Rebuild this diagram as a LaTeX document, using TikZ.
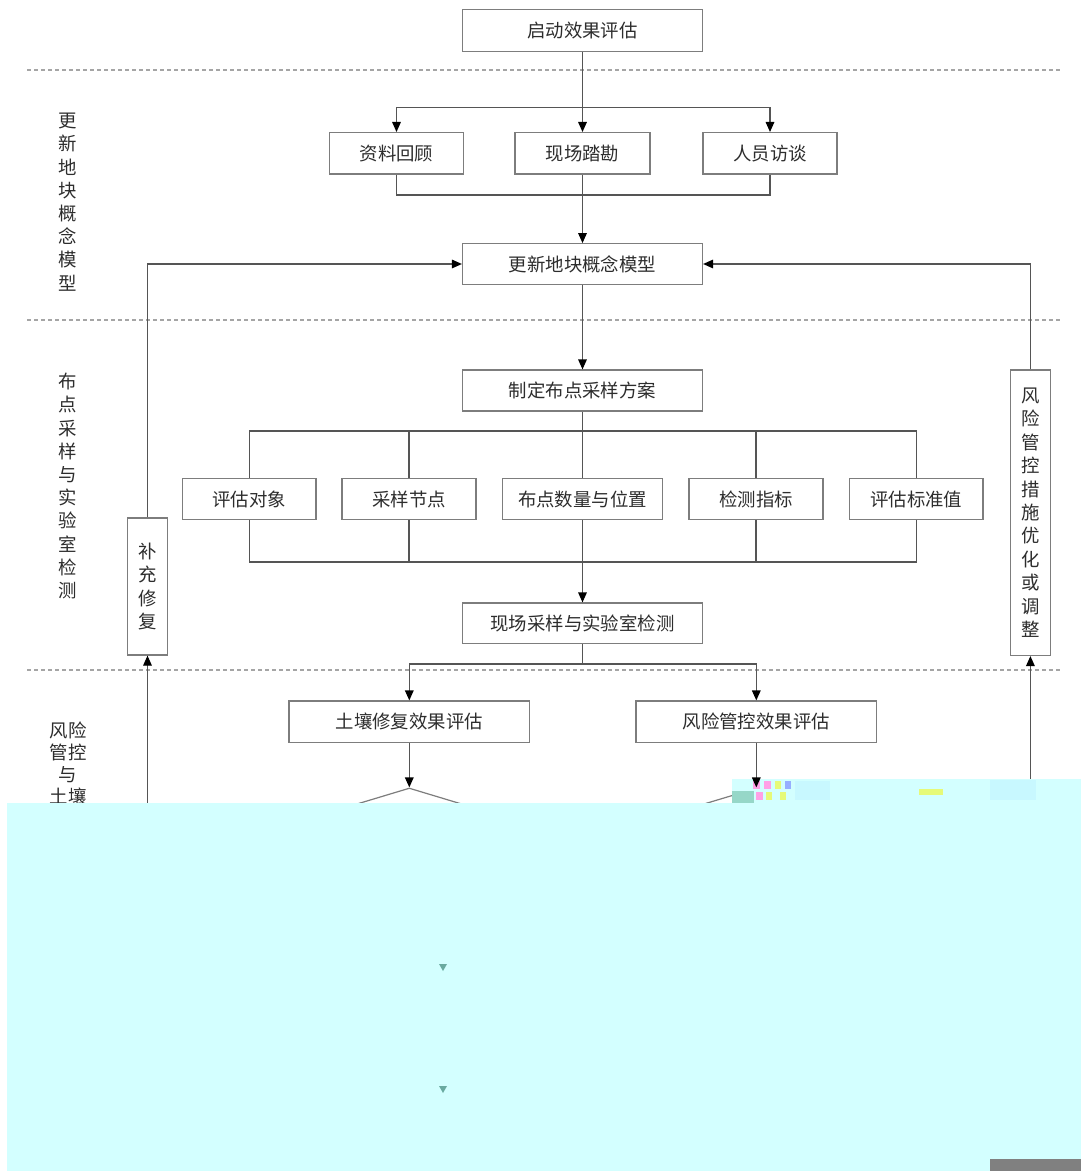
\documentclass[tikz,border=0pt]{standalone}
\usepackage{fontspec}
\newfontfamily\cjk{Noto Sans CJK SC}
\usetikzlibrary{shapes.geometric,arrows.meta}
\definecolor{boxline}{RGB}{125,125,125}
\definecolor{conn}{RGB}{85,85,85}
\definecolor{txt}{RGB}{45,45,45}
\definecolor{dashc}{RGB}{165,165,165}
\definecolor{cyanbg}{RGB}{211,255,255}
\definecolor{tealmark}{RGB}{105,170,160}
\definecolor{noiseteal}{RGB}{150,215,200}
\definecolor{noisepink}{RGB}{255,160,230}
\definecolor{noiseyellow}{RGB}{230,250,120}
\definecolor{noiseblue}{RGB}{150,175,255}
\definecolor{noiselight}{RGB}{200,248,255}
\definecolor{greyblock}{RGB}{128,128,128}
\begin{document}
\begin{tikzpicture}[x=0.5pt,y=-0.5pt,
  box/.style={draw=boxline, line width=0.6pt, rectangle, inner sep=0pt, align=center,
    font=\cjk\fontsize{9.2}{11}\selectfont, text=txt},
  vbox/.style={box, font=\cjk\fontsize{9.2}{11.7}\selectfont},
  lab/.style={inner sep=0pt, align=center, text=txt, font=\cjk\fontsize{9.2}{11.6}\selectfont},
  line/.style={draw=conn, line width=0.6pt},
  arr/.style={line, -{Triangle[length=5pt,width=4.3pt,fill=black,color=black]}},
  sep/.style={draw=dashc, line width=0.6pt, dash pattern=on 2pt off 1.5pt},
  dia/.style={draw=boxline, line width=0.6pt, diamond, inner sep=0pt, minimum width=119pt, minimum height=36pt}]
\useasboundingbox (0,0) rectangle (1081,1171);
\fill[white] (0,0) rectangle (1081,1171);

% separators
\draw[sep] (27,70) -- (1062,70);
\draw[sep] (27,320) -- (1062,320);
\draw[sep] (27,670) -- (1062,670);

% side labels
\node[lab] (L1) at (68,202) {更\\新\\地\\块\\概\\念\\模\\型};
\node[lab] (L2) at (68,486) {布\\点\\采\\样\\与\\实\\验\\室\\检\\测};
\node[lab, font=\cjk\fontsize{9.2}{10.9}\selectfont] (L3) at (68,763.3) {风险\\管控\\与\\土壤};

% boxes
\node[box, minimum width=120pt, minimum height=21pt] (start) at (582.5,30.5) {启动效果评估};
\node[box, minimum width=67pt, minimum height=20.7pt] (r1) at (396.5,153.3) {资料回顾};
\node[box, minimum width=67.5pt, minimum height=20.7pt] (r2) at (582.5,153.3) {现场踏勘};
\node[box, minimum width=67pt, minimum height=20.7pt] (r3) at (770,153.3) {人员访谈};
\node[box, minimum width=120pt, minimum height=20.3pt] (update) at (582.5,264) {更新地块概念模型};
\node[box, minimum width=120pt, minimum height=20.5pt] (plan) at (582.5,390.5) {制定布点采样方案};
\node[box, minimum width=66.75pt, minimum height=20.5pt] (e1) at (249.3,499.2) {评估对象};
\node[box, minimum width=67pt, minimum height=20.5pt] (e2) at (409,499.2) {采样节点};
\node[box, minimum width=80pt, minimum height=20.5pt] (e3) at (582.5,499.2) {布点数量与位置};
\node[box, minimum width=67pt, minimum height=20.5pt] (e4) at (756,499.2) {检测指标};
\node[box, minimum width=66.7pt, minimum height=20.5pt] (e5) at (916.3,499.2) {评估标准值};
\node[box, minimum width=120pt, minimum height=20.4pt] (sample) at (582.5,623.4) {现场采样与实验室检测};
\node[box, minimum width=120.3pt, minimum height=20.8pt] (soil) at (409.3,721.8) {土壤修复效果评估};
\node[box, minimum width=120.3pt, minimum height=20.8pt] (risk) at (756.3,721.8) {风险管控效果评估};
\node[vbox, minimum width=20.15pt, minimum height=68.5pt] (fix) at (147.5,586.5) {补\\充\\修\\复};
\node[vbox, minimum width=19.7pt, minimum height=142.75pt] (adj) at (1030.4,512.7) {风\\险\\管\\控\\措\\施\\优\\化\\或\\调\\整};

% diamonds (lower parts hidden)
\node[dia] (d1) at (409.3,824) {};
\node[dia] (d2) at (756.3,824) {};

% junction coordinates
\coordinate (b1) at (582.5,107.4);
\coordinate (m1) at (582.5,195);
\coordinate (b2) at (582.5,431);
\coordinate (m2) at (582.5,562);
\coordinate (b3) at (582.5,664);
\coordinate (lb) at (147.5,1000);
\coordinate (rb) at (1030.4,1000);

% top section
\draw[line] (start.south) -- (b1);
\draw[arr] (b1) -| (r1.north);
\draw[arr] (b1) -- (r2.north);
\draw[arr] (b1) -| (r3.north);
\draw[line] (r1.south) |- (m1);
\draw[line] (r3.south) |- (m1);
\draw[arr] (r2.south) -- (update.north);

% plan section
\draw[arr] (update.south) -- (plan.north);
\draw[line] (plan.south) -- (b2);
\draw[line] (b2) -| (e1.north);
\draw[line] (b2) -| (e2.north);
\draw[line] (b2) -- (e3.north);
\draw[line] (b2) -| (e4.north);
\draw[line] (b2) -| (e5.north);
\draw[line] (e1.south) |- (m2);
\draw[line] (e2.south) |- (m2);
\draw[line] (e4.south) |- (m2);
\draw[line] (e5.south) |- (m2);
\draw[line] (e3.south) -- (m2);
\draw[arr] (m2) -- (sample.north);

% evaluation section
\draw[line] (sample.south) -- (b3);
\draw[arr] (b3) -| (soil.north);
\draw[arr] (b3) -| (risk.north);
\draw[arr] (soil.south) -- (d1.north);

% feedback loops
\draw[arr] (lb) -- (fix.south);
\draw[arr] (fix.north) |- (update.west);
\draw[arr] (rb) -- (adj.south);
\draw[arr] (adj.north) |- (update.east);

% cyan overlay as in the reference
\fill[cyanbg] (7,803) rectangle (1081,1171);
\fill[cyanbg] (732,779) rectangle (1081,803);
\fill[noiseteal] (732,791) rectangle (754,803);
\fill[noisepink] (753,781) rectangle (760,789);
\fill[noisepink] (764,781) rectangle (771,789);
\fill[noiseyellow] (775,781) rectangle (781,789);
\fill[noiseblue] (785,781) rectangle (791,789);
\fill[noisepink] (756,792) rectangle (763,800);
\fill[noiseyellow] (766,792) rectangle (772,800);
\fill[noiseyellow] (780,792) rectangle (786,800);
\fill[noiselight] (795,781) rectangle (830,800);
\fill[noiseyellow] (919,789) rectangle (943,795);
\fill[noiselight] (990,780) rectangle (1036,800);
\fill[tealmark] (439,964) -- (447,964) -- (443,971) -- cycle;
\fill[tealmark] (439,1086) -- (447,1086) -- (443,1093) -- cycle;
\fill[greyblock] (990,1159) rectangle (1081,1171);

% arrow visible on top of the overlay
\draw[arr] (risk.south) -- (d2.north);
\end{tikzpicture}
\end{document}
